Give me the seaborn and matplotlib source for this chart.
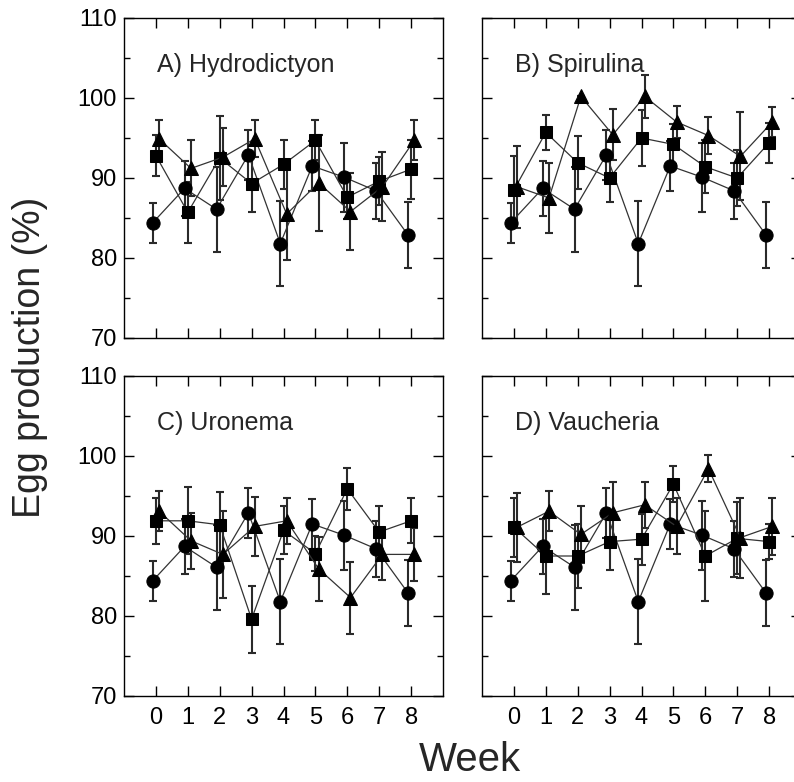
import numpy as np
import pandas as pd
import matplotlib
matplotlib.use("Agg")
import matplotlib.pyplot as plt
import seaborn as sns

# Weeks and the three treatment series per panel (circle = control, same in all panels)
weeks = [0, 1, 2, 3, 4, 5, 6, 7, 8]
panel_titles = ["A) Hydrodictyon", "B) Spirulina", "C) Uronema", "D) Vaucheria"]

circle_vals = [84.4, 88.7, 86.1, 92.9, 81.8, 91.5, 90.1, 88.4, 82.9]
circle_err = [2.5, 3.4, 5.3, 3.1, 5.3, 3.1, 4.3, 3.5, 4.1]

square_vals = {
    "A": [92.8, 85.7, 92.5, 89.3, 91.7, 94.7, 87.6, 89.6, 91.1],
    "B": [88.5, 95.7, 91.9, 90.0, 95.0, 94.2, 91.4, 90.0, 94.4],
    "C": [91.9, 91.9, 91.4, 79.6, 90.7, 87.8, 95.9, 90.5, 91.9],
    "D": [91.1, 87.5, 87.5, 89.3, 89.6, 96.5, 87.5, 89.7, 89.3],
}
square_err = {
    "A": [2.6, 3.8, 5.2, 3.6, 3.1, 2.5, 2.7, 3.0, 3.7],
    "B": [4.2, 2.2, 3.3, 3.0, 3.5, 2.5, 3.3, 3.5, 2.5],
    "C": [2.9, 4.2, 4.1, 4.2, 3.0, 2.2, 2.6, 3.3, 2.8],
    "D": [3.7, 4.8, 4.0, 3.6, 3.2, 2.2, 5.6, 4.5, 2.2],
}
triangle_vals = {
    "A": [94.9, 91.2, 92.6, 94.9, 85.5, 89.4, 85.8, 88.9, 94.7],
    "B": [88.9, 87.5, 100.2, 95.4, 100.2, 97.0, 95.3, 92.7, 97.0],
    "C": [93.1, 89.4, 87.7, 91.2, 91.9, 85.9, 82.3, 87.7, 87.7],
    "D": [91.1, 93.1, 90.2, 92.9, 93.9, 91.2, 98.4, 89.8, 91.2],
}
triangle_err = {
    "A": [2.3, 3.5, 3.6, 2.3, 5.8, 6.0, 4.8, 4.3, 2.5],
    "B": [5.1, 4.4, 0.0, 3.2, 2.7, 2.0, 2.3, 5.5, 1.9],
    "C": [2.5, 3.5, 5.4, 3.7, 2.9, 4.0, 4.5, 3.2, 3.3],
    "D": [4.3, 2.5, 3.6, 3.9, 2.9, 3.5, 1.7, 5.0, 3.6],
}

# small horizontal dodge so the error bars don't sit on top of each other
offsets = {"circle": -0.1, "square": 0.0, "triangle": 0.1}
markers = {"circle": "o", "square": "s", "triangle": "^"}
msizes = {"circle": 9.5, "square": 8.5, "triangle": 10}

sns.set_theme(style="ticks")
plt.rcParams["font.family"] = ["Liberation Sans", "DejaVu Sans"]
plt.rcParams["xtick.labelsize"] = 17
plt.rcParams["ytick.labelsize"] = 17

W, H = 794, 782
fig = plt.figure(figsize=(W / 100, H / 100), dpi=100)

def px_axes(left, top, width, height):
    return fig.add_axes([left / W, 1 - (top + height) / H, width / W, height / H])

axes = {
    "A": px_axes(124, 18, 319, 320),
    "B": px_axes(482, 18, 319, 320),
    "C": px_axes(124, 376, 319, 320),
    "D": px_axes(482, 376, 319, 320),
}

for key, title in zip(["A", "B", "C", "D"], panel_titles):
    ax = axes[key]
    series = {
        "circle": (circle_vals, circle_err),
        "square": (square_vals[key], square_err[key]),
        "triangle": (triangle_vals[key], triangle_err[key]),
    }
    rows = []
    for name, (vals, errs) in series.items():
        for w, v, e in zip(weeks, vals, errs):
            rows.append({"series": name, "x": w + offsets[name], "y": v, "err": e})
    df = pd.DataFrame(rows)

    for name in ["circle", "square", "triangle"]:
        sub = df[df["series"] == name]
        ax.errorbar(sub["x"], sub["y"], yerr=sub["err"], fmt="none",
                    ecolor="#2a2a2a", elinewidth=1.5, capsize=3, capthick=1.5,
                    zorder=2)
        sns.lineplot(data=sub, x="x", y="y", ax=ax, color="#333333",
                     linewidth=0.9, marker=markers[name],
                     markersize=msizes[name], markeredgecolor="black",
                     markerfacecolor="black", zorder=3, legend=False)

    ax.set_xlim(-1, 9)
    ax.set_ylim(70, 110)
    ax.set_xticks(weeks)
    ax.set_yticks([70, 80, 90, 100, 110])
    ax.set_yticks([75, 85, 95, 105], minor=True)
    ax.set_xlabel("")
    ax.set_ylabel("")
    ax.tick_params(which="both", direction="in", top=True, right=True,
                   colors="black", width=1.0)
    ax.tick_params(which="major", length=7, pad=5, labelsize=17)
    ax.tick_params(axis="x", which="major", pad=8)
    ax.tick_params(which="minor", length=4)
    for s in ax.spines.values():
        s.set_linewidth(1.0)
        s.set_color("black")
    if key in ("A", "B"):
        ax.tick_params(labelbottom=False)
    if key in ("B", "D"):
        ax.tick_params(labelleft=False)
    ax.text(0.103, 0.83, title, transform=ax.transAxes, fontsize=18,
            ha="left", va="baseline")

fig.text(30 / W, 1 - 357 / H, "Egg production (%)", rotation=90,
         fontsize=27, ha="center", va="center")
fig.text(470 / W, 1 - 760 / H, "Week", fontsize=29, ha="center", va="center")

fig.savefig("out.png", dpi=100)
